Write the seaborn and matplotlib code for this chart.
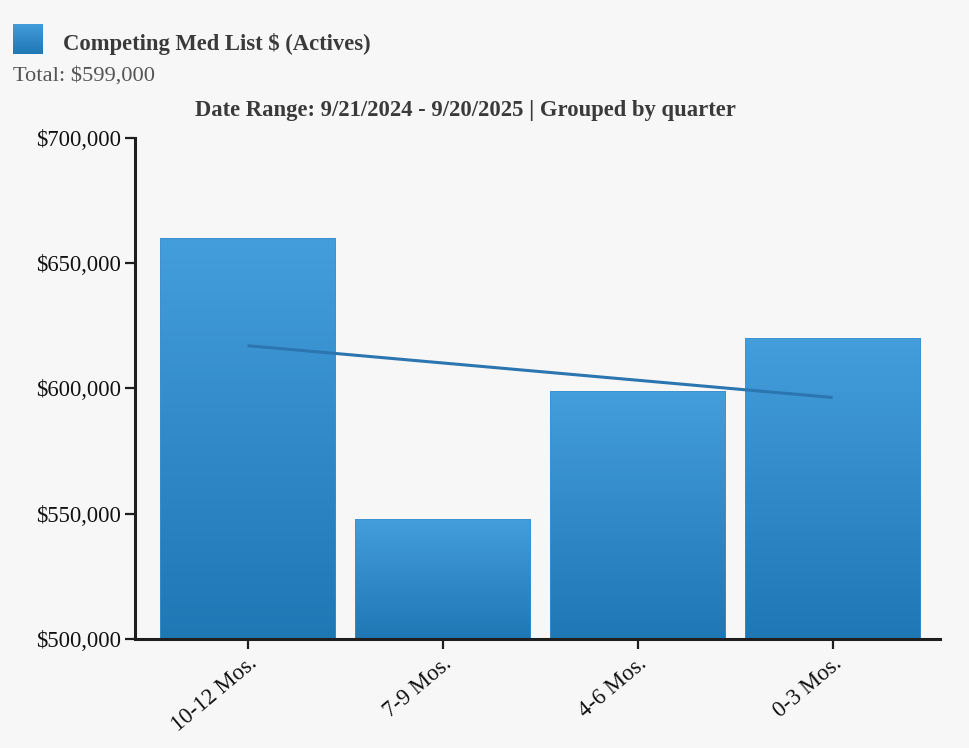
import numpy as np
import pandas as pd
import matplotlib
matplotlib.use("Agg")
import matplotlib.pyplot as plt
from matplotlib.colors import LinearSegmentedColormap
from matplotlib.ticker import FuncFormatter
import seaborn as sns

# Data
periods = ["10-12 Mos.", "7-9 Mos.", "4-6 Mos.", "0-3 Mos."]
med_list_price = [660000, 548000, 599000, 620000]
total_label = "Total: $599,000"
series_name = "Competing Med List $ (Actives)"
subtitle = "Date Range: 9/21/2024 - 9/20/2025 | Grouped by quarter"
y_ticks = [500000, 550000, 600000, 650000, 700000]

BG = "#f7f7f7"
TOP_BLUE = "#449edb"
BOTTOM_BLUE = "#1f77b4"
TEXT = "#3a3a3a"

sns.set_theme(style="white")
plt.rcParams["font.family"] = ["Liberation Serif", "DejaVu Serif"]

df = pd.DataFrame({"period": periods, "value": med_list_price})

W, H = 969, 748
fig = plt.figure(figsize=(W / 100, H / 100), dpi=100, facecolor=BG)
ax = fig.add_axes([135 / W, 1 - 639 / H, (940 - 135) / W, (639 - 138) / H])
ax.set_facecolor(BG)

sns.barplot(data=df, x="period", y="value", color=BOTTOM_BLUE, width=0.9,
            saturation=1, ax=ax, zorder=2)

ymin, ymax = y_ticks[0], y_ticks[-1]
ax.set_ylim(ymin, ymax)
ax.set_xlim(-0.577, 3.551)

# vertical gradient fill for each bar
grad_cmap = LinearSegmentedColormap.from_list("bar_grad", [BOTTOM_BLUE, TOP_BLUE])
grad = np.linspace(0, 1, 256).reshape(-1, 1)
for patch in ax.patches:
    x0 = patch.get_x()
    x1 = x0 + patch.get_width()
    top = patch.get_height()
    patch.set_facecolor("none")
    patch.set_edgecolor("#3f8fcc")
    patch.set_linewidth(0.5)
    im = ax.imshow(grad, cmap=grad_cmap, aspect="auto", origin="lower",
                   extent=[x0, x1, ymin, top], zorder=1.5)
    im.set_clip_path(patch)

# linear trend across the periods
xs = np.arange(len(med_list_price))
slope, intercept = np.polyfit(xs, med_list_price, 1)
ax.plot(xs, slope * xs + intercept, color="#2b76b0", lw=2.2, zorder=3,
        solid_capstyle="butt")

ax.set_xlim(-0.577, 3.551)
ax.set_ylim(ymin, ymax)
ax.set_yticks(y_ticks)
ax.yaxis.set_major_formatter(FuncFormatter(lambda v, p: f"${v:,.0f}"))
ax.set_xlabel("")
ax.set_ylabel("")

for side in ["top", "right"]:
    ax.spines[side].set_visible(False)
for side in ["left", "bottom"]:
    ax.spines[side].set_color("#1e1e1e")
    ax.spines[side].set_linewidth(2.2)
    ax.spines[side].set_zorder(4)

ax.tick_params(axis="both", which="both", direction="out", length=7, width=1.6,
               color="#1e1e1e", labelcolor="#111111", labelsize=16.3, pad=3,
               left=True, bottom=True)
plt.setp(ax.get_xticklabels(), rotation=40, ha="right", rotation_mode="anchor")

# legend swatch
sw = fig.add_axes([13 / W, 1 - 54 / H, 30 / W, 30 / H])
sw.imshow(grad, cmap=grad_cmap, aspect="auto", origin="lower")
sw.set_axis_off()

fig.text(63 / W, 1 - 50 / H, series_name, ha="left", va="baseline",
         fontsize=16.3, fontweight="bold", color=TEXT)
fig.text(13 / W, 1 - 81 / H, total_label, ha="left", va="baseline",
         fontsize=16.2, color="#555555")
fig.text(465 / W, 1 - 116 / H, subtitle, ha="center", va="baseline",
         fontsize=16.3, fontweight="bold", color=TEXT)

fig.savefig("out.png", dpi=100, facecolor=BG)
